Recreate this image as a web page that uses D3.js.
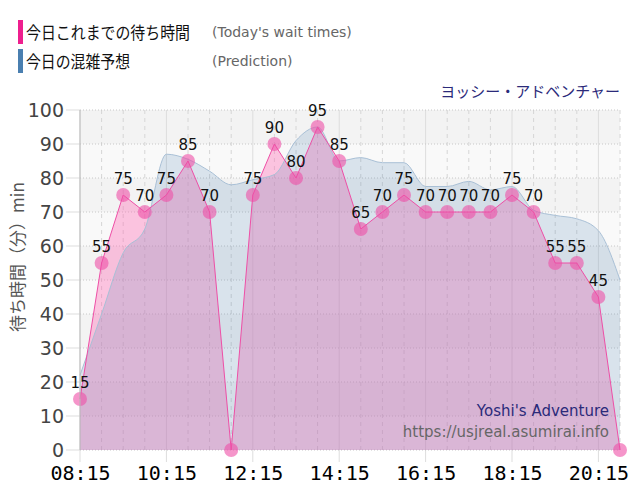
<!DOCTYPE html>
<html>
<head>
<meta charset="utf-8">
<script src="https://cdn.jsdelivr.net/npm/d3@7"></script>
<style>
  body { margin: 0; background: #fff; }
  svg { display: block; }
</style>
</head>
<body>
<div id="chart"></div>
<script>
// times every 30 min
var times = ["08:15","08:45","09:15","09:45","10:15","10:45","11:15","11:45","12:15","12:45",
    "13:15","13:45","14:15","14:45","15:15","15:45","16:15","16:45","17:15","17:45",
    "18:15","18:45","19:15","19:45","20:15","20:45"];

// today's wait times
var waitTimes = [15,55,75,70,75,85,70,0,75,90,80,95,85,65,70,75,70,70,70,70,75,70,55,55,45,0];

// prediction
var prediction = [22,40,58,65,87,85.5,82,78,79.5,81,91,95,85,86,84.5,84.5,77.5,77.5,79,76.5,77.5,70.5,69,68,64.5,50];

var xTicks = ["08:15","10:15","12:15","14:15","16:15","18:15","20:15"];
var yTicks = [0,10,20,30,40,50,60,70,80,90,100];

var svgWidth = 640, svgHeight = 500;
var margin = { top: 110, right: 20, bottom: 50, left: 80 };
var width = svgWidth - margin.left - margin.right;
var height = svgHeight - margin.top - margin.bottom;

var parseTime = d3.timeParse("%H:%M");

var svg = d3.select("#chart").append("svg")
    .attr("width", svgWidth)
    .attr("height", svgHeight);

// legend
var legend = [
    { label: "今日これまでの待ち時間", en: "(Today's wait times)", color: "#ee1f8e", y: 20, len: 164 },
    { label: "今日の混雑予想", en: "(Prediction)", color: "#4a7fb0", y: 49, len: 104 }
];
legend.forEach(function(l) {
    svg.append("rect").attr("x", 18).attr("y", l.y).attr("width", 5).attr("height", 24)
        .attr("fill", l.color);
    svg.append("text").attr("x", 26).attr("y", l.y + 19)
        .style("font-family", "'Noto Sans CJK JP', sans-serif").style("font-size", "17px")
        .attr("textLength", l.len).attr("lengthAdjust", "spacingAndGlyphs")
        .attr("fill", "#111").text(l.label);
    svg.append("text").attr("x", 212).attr("y", l.y + 17)
        .style("font-family", "'DejaVu Sans', sans-serif").style("font-size", "14px")
        .attr("fill", "#666").text(l.en);
});

svg.append("text").attr("x", 620).attr("y", 97).attr("text-anchor", "end")
    .style("font-family", "'Noto Sans CJK JP', sans-serif").style("font-size", "15px")
    .attr("fill", "#2b2a7a").text("ヨッシー・アドベンチャー");

var chartGroup = svg.append("g")
    .attr("transform", `translate(${margin.left}, ${margin.top})`);

var x = d3.scaleTime()
    .domain([parseTime(times[0]), parseTime(times[times.length - 1])])
    .range([0, width]);

var y = d3.scaleLinear().domain([0, 100]).range([height, 0]);

// background bands
for (var i = 0; i < 10; i++) {
    chartGroup.append("rect")
        .attr("x", 0).attr("width", width)
        .attr("y", y((i + 1) * 10)).attr("height", y(i * 10) - y((i + 1) * 10))
        .attr("fill", i % 2 == 1 ? "#f3f3f3" : "#f9f9f9");
}

// vertical grid
times.forEach(function(t) {
    var major = xTicks.indexOf(t) >= 0;
    chartGroup.append("line")
        .attr("x1", x(parseTime(t))).attr("x2", x(parseTime(t)))
        .attr("y1", 0).attr("y2", major ? height + 12 : height)
        .attr("stroke", major ? "#dddddd" : "#d6d6d6")
        .attr("stroke-dasharray", major ? null : "4,4");
});

// horizontal grid
yTicks.forEach(function(v) {
    chartGroup.append("line")
        .attr("x1", -14).attr("x2", 0)
        .attr("y1", y(v)).attr("y2", y(v))
        .attr("stroke", "#dddddd");
    chartGroup.append("line")
        .attr("x1", 0).attr("x2", width)
        .attr("y1", y(v)).attr("y2", y(v))
        .attr("stroke", "#c8c8c8")
        .attr("stroke-dasharray", "1,2");
});

var xAt = (d, i) => x(parseTime(times[i]));

// wait area (under the prediction)
var waitArea = d3.area().x(xAt).y0(height).y1(d => y(d));
var waitLine = d3.line().x(xAt).y(d => y(d));

chartGroup.append("path").datum(waitTimes)
    .attr("d", waitArea)
    .attr("fill", "#ff69b4")
    .attr("fill-opacity", 0.375);

// prediction area
var predArea = d3.area().x(xAt).y0(height).y1(d => y(d)).curve(d3.curveMonotoneX);
var predLine = d3.line().x(xAt).y(d => y(d)).curve(d3.curveMonotoneX);

chartGroup.append("path").datum(prediction)
    .attr("d", predArea)
    .attr("fill", "#4682b4")
    .attr("fill-opacity", 0.18);
chartGroup.append("path").datum(prediction)
    .attr("d", predLine)
    .attr("fill", "none")
    .attr("stroke", "#a9c0d6")
    .attr("stroke-width", 1);

chartGroup.append("path").datum(waitTimes)
    .attr("d", waitLine)
    .attr("fill", "none")
    .attr("stroke", "#ee4fa6")
    .attr("stroke-width", 1);

// dots
chartGroup.selectAll("circle.dot")
    .data(waitTimes)
    .enter()
    .append("circle")
    .attr("class", "dot")
    .attr("cx", xAt)
    .attr("cy", d => y(d))
    .attr("r", 7)
    .attr("fill", "#ee4fa6")
    .attr("opacity", 0.6);

// value labels (not for zero)
chartGroup.selectAll("text.val")
    .data(waitTimes)
    .enter()
    .append("text")
    .attr("class", "val")
    .attr("x", xAt)
    .attr("y", d => y(d) - 11)
    .attr("text-anchor", "middle")
    .style("font-family", "'DejaVu Sans', sans-serif")
    .style("font-size", "15px")
    .attr("fill", "#111")
    .text(d => d > 0 ? d : "");

// left axis line
chartGroup.append("line")
    .attr("x1", 0).attr("x2", 0).attr("y1", 0).attr("y2", height)
    .attr("stroke", "#bbbbbb");

// y tick labels
var yAxis = d3.axisLeft(y).tickValues(yTicks).tickSize(0).tickPadding(16);
var yg = chartGroup.append("g").call(yAxis);
yg.select(".domain").remove();
yg.selectAll("text")
    .style("font-family", "'DejaVu Sans', sans-serif")
    .style("font-size", "19px")
    .attr("fill", "#444");

// x tick labels
var xAxis = d3.axisBottom(x).tickValues(xTicks.map(parseTime))
    .tickFormat(d3.timeFormat("%H:%M")).tickSize(0).tickPadding(16);
var xg = chartGroup.append("g").attr("transform", `translate(0, ${height})`).call(xAxis);
xg.select(".domain").remove();
xg.selectAll("text")
    .style("font-family", "'DejaVu Sans Mono', monospace")
    .style("font-size", "20px")
    .attr("fill", "#000");

// y label
svg.append("text")
    .attr("transform", "translate(24, 257) rotate(-90)")
    .attr("text-anchor", "middle")
    .style("font-family", "'Noto Sans CJK JP', sans-serif")
    .style("font-size", "17px")
    .attr("fill", "#555")
    .text("待ち時間（分）min");

// credits
svg.append("text").attr("x", 609).attr("y", 416).attr("text-anchor", "end")
    .style("font-family", "'DejaVu Sans', sans-serif").style("font-size", "15px")
    .attr("fill", "#2b2a7a").text("Yoshi's Adventure");
svg.append("text").attr("x", 609).attr("y", 437).attr("text-anchor", "end")
    .style("font-family", "'DejaVu Sans', sans-serif").style("font-size", "15px")
    .attr("fill", "#666").text("https://usjreal.asumirai.info");
</script>
</body>
</html>
